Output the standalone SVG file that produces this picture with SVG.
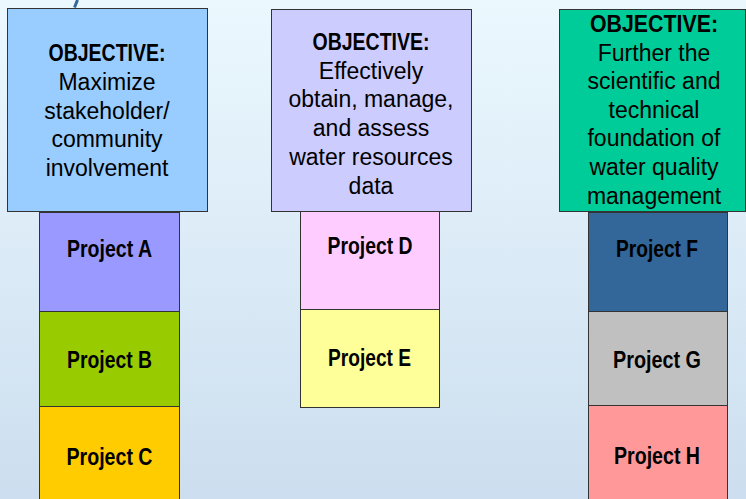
<svg xmlns="http://www.w3.org/2000/svg" width="746" height="499" viewBox="0 0 746 499">
<defs>
<linearGradient id="bg" x1="0" y1="0" x2="0" y2="1">
<stop offset="0" stop-color="#EBF8FE"/>
<stop offset="1" stop-color="#CCDEEF"/>
</linearGradient>
</defs>
<style>
.box{stroke:#333;stroke-width:1}
.t{font-family:"Liberation Sans",Arial,sans-serif;font-size:23px;fill:#000;text-anchor:middle}
.h{font-weight:bold;font-size:24px}
.p{font-family:"Liberation Sans",Arial,sans-serif;font-size:24px;font-weight:bold;fill:#000;text-anchor:middle}
</style>
<rect width="746" height="499" fill="url(#bg)"/>
<path d="M77.5 0 L74.5 7.5" stroke="#336699" stroke-width="3" fill="none"/>
<g id="connectors"></g>
<g id="obj1">
<rect class="box" x="7.5" y="8.5" width="200" height="203" fill="#99CCFF"/>
<text class="t h" x="107" y="61" textLength="117" lengthAdjust="spacingAndGlyphs">OBJECTIVE:</text>
<text class="t" x="107" y="90">Maximize</text>
<text class="t" x="107" y="118.5">stakeholder/</text>
<text class="t" x="107" y="147">community</text>
<text class="t" x="107" y="176">involvement</text>
</g>
<g id="obj2">
<rect class="box" x="271.5" y="9.5" width="200" height="202" fill="#CCCCFF"/>
<text class="t h" x="371" y="50" textLength="117" lengthAdjust="spacingAndGlyphs">OBJECTIVE:</text>
<text class="t" x="371" y="78.7">Effectively</text>
<text class="t" x="371" y="107.4">obtain, manage,</text>
<text class="t" x="371" y="136">and assess</text>
<text class="t" x="371" y="164.8">water resources</text>
<text class="t" x="371" y="193.5">data</text>
</g>
<g id="obj3">
<rect class="box" x="559.5" y="9.5" width="186" height="202" fill="#00CC99"/>
<text class="t h" x="654" y="32" textLength="128" lengthAdjust="spacingAndGlyphs">OBJECTIVE:</text>
<text class="t" x="654" y="60.6">Further the</text>
<text class="t" x="654" y="89.2">scientific and</text>
<text class="t" x="654" y="117.8">technical</text>
<text class="t" x="654" y="146.4">foundation of</text>
<text class="t" x="654" y="175">water quality</text>
<text class="t" x="654" y="203.6">management</text>
</g>
<g id="projA">
<rect class="box" x="39.5" y="212.5" width="140" height="99" fill="#9999FF"/>
<text class="p" x="109.5" y="257" textLength="85" lengthAdjust="spacingAndGlyphs">Project A</text>
</g>
<g id="projB">
<rect class="box" x="39.5" y="311.5" width="140" height="95" fill="#99CC00"/>
<text class="p" x="109.5" y="368" textLength="85" lengthAdjust="spacingAndGlyphs">Project B</text>
</g>
<g id="projC">
<rect class="box" x="39.5" y="406.5" width="140" height="100" fill="#FFCC00"/>
<text class="p" x="109.5" y="465" textLength="86" lengthAdjust="spacingAndGlyphs">Project C</text>
</g>
<g id="projD">
<rect class="box" x="300.5" y="211.5" width="139" height="98" fill="#FFCCFF"/>
<text class="p" x="370" y="254" textLength="85" lengthAdjust="spacingAndGlyphs">Project D</text>
</g>
<g id="projE">
<rect class="box" x="300.5" y="309.5" width="139" height="98" fill="#FFFF99"/>
<text class="p" x="369.5" y="366" textLength="83" lengthAdjust="spacingAndGlyphs">Project E</text>
</g>
<g id="projF">
<rect class="box" x="588.5" y="212.5" width="139" height="99" fill="#336699"/>
<text class="p" x="657" y="257" textLength="82" lengthAdjust="spacingAndGlyphs">Project F</text>
</g>
<g id="projG">
<rect class="box" x="588.5" y="311.5" width="139" height="94" fill="#C0C0C0"/>
<text class="p" x="657" y="368" textLength="88" lengthAdjust="spacingAndGlyphs">Project G</text>
</g>
<g id="projH">
<rect class="box" x="588.5" y="405.5" width="139" height="100" fill="#FF9999"/>
<text class="p" x="657" y="464" textLength="86" lengthAdjust="spacingAndGlyphs">Project H</text>
</g>
</svg>
